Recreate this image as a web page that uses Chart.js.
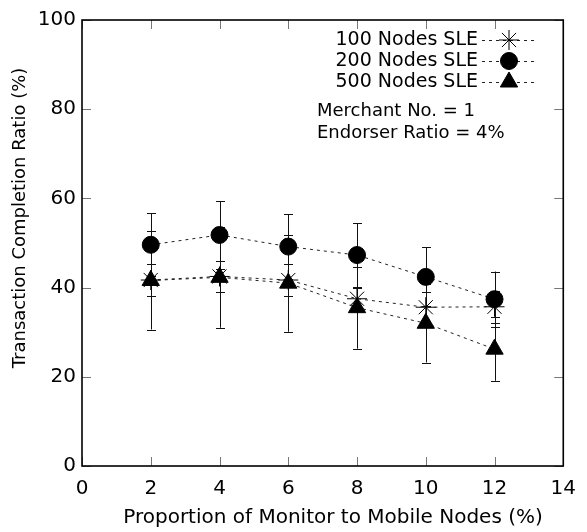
<!DOCTYPE html>
<html><head><meta charset="utf-8">
<style>html,body{margin:0;padding:0;background:#fff}#wrap{width:587px;height:532px}</style>
<script src="https://cdn.jsdelivr.net/npm/chart.js@4/dist/chart.umd.min.js"></script>
</head><body><div id="wrap"><canvas id="c" width="587" height="532"></canvas></div>
<script>
const xValues = [2, 4, 6, 8, 10, 12];
const nodes100 = [41.7, 42.5, 41.7, 37.5, 35.6, 35.7];
const nodes100Err = [3.5, 3.5, 3.6, 2.3, 3.5, 3.6];
const nodes200 = [49.6, 51.8, 49.2, 47.3, 42.4, 37.4];
const nodes200Err = [7.1, 7.6, 7.2, 7.1, 6.6, 6.2];
const nodes500 = [41.6, 42.3, 41.0, 35.5, 32.0, 26.2];
const nodes500Err = [11.0, 11.3, 10.9, 9.2, 8.8, 7.1];
const seriesLabels = ['100 Nodes SLE', '200 Nodes SLE', '500 Nodes SLE'];
const noteLines = ['Merchant No. = 1', 'Endorser Ratio = 4%'];
const xTitle = 'Proportion of Monitor to Mobile Nodes (%)';
const yTitle = 'Transaction Completion Ratio (%)';

const FONT = '"DejaVu Sans", sans-serif';
const styles = [
  {pointStyle: 'star', radius: 10, borderWidth: 1},
  {pointStyle: 'circle', radius: 8.5, borderWidth: 1},
  {pointStyle: 'triangle', radius: 10, borderWidth: 1}
];
const seriesVals = [nodes100, nodes200, nodes500];
const seriesErr = [nodes100Err, nodes200Err, nodes500Err];

function mk(i, order) {
  return {
    label: seriesLabels[i],
    data: xValues.map((x, k) => ({x: x, y: seriesVals[i][k]})),
    err: seriesErr[i],
    showLine: true,
    borderColor: '#222',
    borderWidth: 1,
    borderDash: [3, 4],
    pointStyle: styles[i].pointStyle,
    pointRadius: styles[i].radius,
    pointHoverRadius: styles[i].radius,
    pointBorderWidth: styles[i].borderWidth,
    pointBackgroundColor: '#000',
    pointBorderColor: '#000',
    order: order
  };
}

const errorBars = {
  id: 'errorBars',
  beforeDatasetsDraw(chart) {
    const ctx = chart.ctx, xs = chart.scales.x, ys = chart.scales.y;
    ctx.save();
    ctx.strokeStyle = '#111';
    ctx.lineWidth = 1;
    chart.data.datasets.forEach(ds => {
      ds.data.forEach((p, k) => {
        const e = ds.err[k];
        const px = Math.round(xs.getPixelForValue(p.x)) + 0.5;
        const top = ys.getPixelForValue(p.y + e);
        const bot = ys.getPixelForValue(p.y - e);
        ctx.beginPath();
        ctx.moveTo(px, top); ctx.lineTo(px, bot);
        ctx.moveTo(px - 4.5, Math.round(top) + 0.5); ctx.lineTo(px + 4.5, Math.round(top) + 0.5);
        ctx.moveTo(px - 4.5, Math.round(bot) + 0.5); ctx.lineTo(px + 4.5, Math.round(bot) + 0.5);
        ctx.stroke();
      });
    });
    ctx.restore();
  }
};

const frame = {
  id: 'frame',
  afterDraw(chart) {
    const ctx = chart.ctx, a = chart.chartArea, xs = chart.scales.x, ys = chart.scales.y;
    ctx.save();
    ctx.strokeStyle = '#777';
    ctx.lineWidth = 1;
    const TL = 9;
    ctx.beginPath();
    xs.ticks.forEach(t => {
      const px = Math.round(xs.getPixelForValue(t.value)) + 0.5;
      ctx.moveTo(px, a.bottom); ctx.lineTo(px, a.bottom - TL);
      ctx.moveTo(px, a.top); ctx.lineTo(px, a.top + TL);
    });
    ys.ticks.forEach(t => {
      const py = Math.round(ys.getPixelForValue(t.value)) + 0.5;
      ctx.moveTo(a.left, py); ctx.lineTo(a.left + TL, py);
      ctx.moveTo(a.right, py); ctx.lineTo(a.right - TL, py);
    });
    ctx.stroke();
    ctx.strokeStyle = '#000';
    ctx.lineWidth = 1.6;
    ctx.strokeRect(a.left, a.top, a.right - a.left, a.bottom - a.top);

    ctx.fillStyle = '#000';
    ctx.font = '19px ' + FONT;
    ctx.textAlign = 'right';
    ctx.textBaseline = 'middle';
    const rows = [40, 61, 82];
    seriesLabels.forEach((lab, i) => {
      const y = rows[i];
      ctx.fillText(lab, 478, y);
      ctx.save();
      ctx.strokeStyle = '#222';
      ctx.lineWidth = 1;
      ctx.setLineDash([3, 4]);
      ctx.beginPath();
      ctx.moveTo(482, y + 0.5); ctx.lineTo(538, y + 0.5);
      ctx.stroke();
      ctx.restore();
      ctx.save();
      ctx.fillStyle = '#000';
      ctx.strokeStyle = '#000';
      ctx.lineWidth = styles[i].borderWidth;
      Chart.helpers.drawPoint(ctx, {pointStyle: styles[i].pointStyle, radius: styles[i].radius, borderWidth: styles[i].borderWidth, rotation: 0}, 509, y);
      ctx.restore();
    });
    ctx.textAlign = 'left';
    ctx.font = '18px ' + FONT;
    ctx.fillText(noteLines[0], 317, 111);
    ctx.fillText(noteLines[1], 317, 133);
    ctx.font = '20px ' + FONT;
    ctx.textAlign = 'center';
    ctx.fillText(xTitle, 333, 518);
    ctx.save();
    ctx.font = '18px ' + FONT;
    ctx.translate(20, 218);
    ctx.rotate(-Math.PI / 2);
    ctx.fillText(yTitle, 0, 0);
    ctx.restore();
    ctx.restore();
  }
};

new Chart(document.getElementById('c'), {
  type: 'scatter',
  data: {datasets: [mk(0, 3), mk(1, 2), mk(2, 1)]},
  options: {
    responsive: false,
    animation: false,
    devicePixelRatio: 1,
    layout: {padding: {top: 20, right: 22, left: 0, bottom: 0}},
    plugins: {legend: {display: false}, tooltip: {enabled: false}},
    scales: {
      x: {
        type: 'linear', min: 0, max: 14,
        ticks: {stepSize: 2, color: '#000', font: {family: FONT, size: 20}, padding: 11, maxRotation: 0},
        grid: {display: false, drawTicks: false},
        border: {display: false},
        afterFit(s) { s.height = 66; }
      },
      y: {
        type: 'linear', min: 0, max: 100,
        ticks: {stepSize: 20, color: '#000', font: {family: FONT, size: 20}, padding: 6},
        grid: {display: false, drawTicks: false},
        border: {display: false},
        afterFit(s) { s.width = 82; }
      }
    }
  },
  plugins: [errorBars, frame]
});
</script>
</body></html>
